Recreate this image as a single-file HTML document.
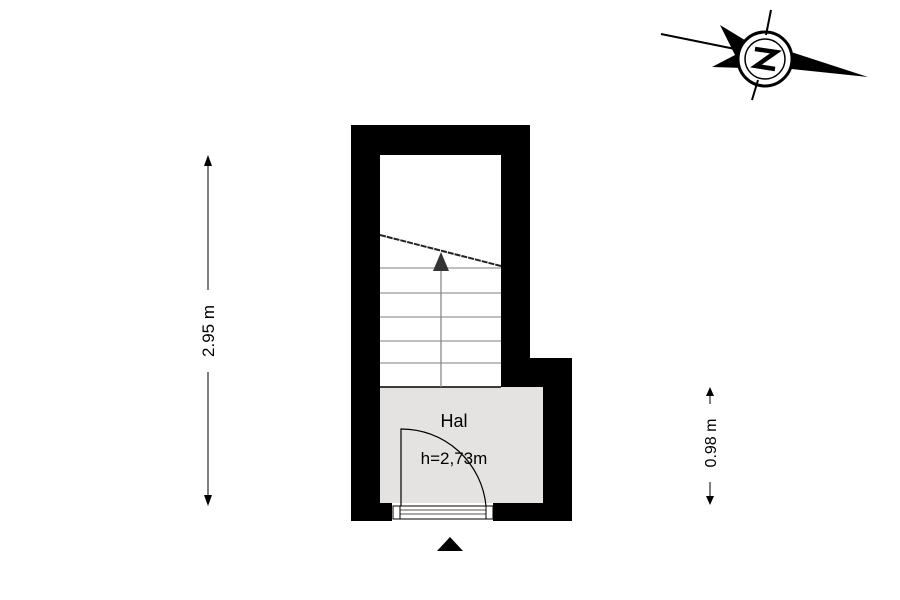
<!DOCTYPE html>
<html><head><style>body{margin:0;background:#fff}svg{display:block}</style></head><body>
<svg width="900" height="600" xmlns="http://www.w3.org/2000/svg" font-family="Liberation Sans, sans-serif">
<path d="M351,125 H530 V358 H572 V521 H493 V503 H543 V387 H501 V155 H380 V503 H392 V521 H351 Z" fill="#000"/>
<rect x="380" y="387" width="163" height="116" fill="#e4e3e1"/>
<line x1="380" y1="387" x2="501" y2="387" stroke="#000" stroke-width="1.5"/>
<g stroke="#999" stroke-width="1.3">
<line x1="380" y1="268" x2="501" y2="268"/>
<line x1="380" y1="293" x2="501" y2="293"/>
<line x1="380" y1="317" x2="501" y2="317"/>
<line x1="380" y1="341" x2="501" y2="341"/>
<line x1="380" y1="363" x2="501" y2="363"/>
<line x1="441" y1="270" x2="441" y2="387" stroke="#888"/>
</g>
<line x1="380" y1="235" x2="501" y2="266" stroke="#222" stroke-width="2" stroke-dasharray="6,1"/>
<polygon points="441,252 433,271 449,271" fill="#333"/>
<rect x="393" y="506" width="100" height="13" fill="#fff" stroke="#000" stroke-width="1"/>
<line x1="400" y1="510" x2="486" y2="510" stroke="#555"/>
<line x1="400" y1="514" x2="486" y2="514" stroke="#555"/>
<line x1="400" y1="506" x2="400" y2="519" stroke="#000"/>
<line x1="486" y1="506" x2="486" y2="519" stroke="#000"/>
<path d="M401,506 V429 A85,85 0 0 1 486,506" fill="none" stroke="#000" stroke-width="1.2"/>
<text x="454" y="427" font-size="18" text-anchor="middle">Hal</text>
<text x="454" y="464" font-size="17" text-anchor="middle">h=2,73m</text>
<polygon points="450,537 437,551 463,551" fill="#000"/>
<line x1="208" y1="158" x2="208" y2="290" stroke="#000"/>
<line x1="208" y1="372" x2="208" y2="503" stroke="#000"/>
<polygon points="208,155 204,166 212,166" fill="#000"/>
<polygon points="208,506 204,495 212,495" fill="#000"/>
<text transform="translate(214,331) rotate(-90)" font-size="17" text-anchor="middle">2.95 m</text>
<line x1="710" y1="390" x2="710" y2="404" stroke="#000"/>
<line x1="710" y1="482" x2="710" y2="503" stroke="#000"/>
<polygon points="710,387 706,396 714,396" fill="#000"/>
<polygon points="710,505 706,496 714,496" fill="#000"/>
<text transform="translate(716,443) rotate(-90)" font-size="16" text-anchor="middle">0.98 m</text>
<g>
<line x1="661" y1="34" x2="740" y2="50" stroke="#000" stroke-width="2"/>
<polygon points="720,25 748,42 744,68 712,67 735,55" fill="#000"/>
<polygon points="785,50 868,77 782,68" fill="#000"/>
<circle cx="765" cy="59" r="27" fill="#fff" stroke="#000" stroke-width="3"/>
<circle cx="765" cy="59" r="20" fill="none" stroke="#000" stroke-width="1.5"/>
<line x1="771" y1="10" x2="766" y2="35" stroke="#000" stroke-width="2"/>
<line x1="758" y1="80" x2="752" y2="100" stroke="#000" stroke-width="2"/>
<path d="M755,49 L776,52 L756,66 L775,69" fill="none" stroke="#000" stroke-width="4.5"/>
</g>
</svg>
</body></html>
